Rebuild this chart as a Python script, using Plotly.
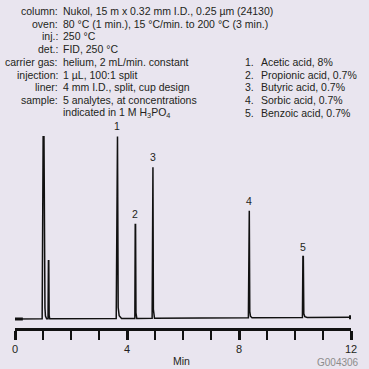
import plotly.graph_objects as go

# ---- data ----
peak_labels = ["", "", "1", "2", "3", "4", "5"]
peak_times = [1.02, 1.20, 3.65, 4.30, 4.92, 8.36, 10.29]
peak_heights = [182, 58, 182, 94, 151, 107, 61]
peak_halfwidths = [0.05, 0.02, 0.035, 0.02, 0.022, 0.025, 0.025]
peak_tails = [0.06, 0.02, 0.12, 0.03, 0.04, 0.08, 0.12]
baseline_start = 0.0
baseline_end = 1.7
x_ticks = [0, 4, 8, 12]
x_ticklabels = ["0", "4", "8", "12"]

cond_labels = ["column:", "oven:", "inj.:", "det.:", "carrier gas:", "injection:", "liner:", "sample:", ""]
cond_values = [
    "Nukol, 15 m x 0.32 mm I.D., 0.25 µm (24130)",
    "80 °C (1 min.), 15 °C/min. to 200 °C (3 min.)",
    "250 °C",
    "FID, 250 °C",
    "helium, 2 mL/min. constant",
    "1 µL, 100:1 split",
    "4 mm I.D., split, cup design",
    "5 analytes, at concentrations",
    "indicated in 1 M H<sub>3</sub>PO<sub>4</sub>",
]
compounds = ["Acetic acid, 8%", "Propionic acid, 0.7%", "Butyric acid, 0.7%",
             "Sorbic acid, 0.7%", "Benzoic acid, 0.7%"]

# ---- build trace ----
def base(t):
    return baseline_start + (baseline_end - baseline_start) * t / 12.0

xs = [0.0]
ys = [base(0.0)]
for t, h, w, tl in zip(peak_times, peak_heights, peak_halfwidths, peak_tails):
    xs += [t - w, t - w * 0.3, t + w * 0.3, t + w, t + w + tl * 0.3, t + w + tl]
    ys += [base(t), base(t) + h, base(t) + h, base(t) + 0.06 * h, base(t) + 0.015 * h, base(t)]
xs.append(12.0)
ys.append(base(12.0))

W, H = 369, 369
L, R, T, B = 14, 13, 130, 41
pw, ph = W - L - R, H - T - B

def px(x):
    return (x - L) / pw

def py(y):
    return (H - B - y) / ph

TXT = "#231f20"
FONT = "Liberation Sans, Arial, sans-serif"
FS = 10.5

fig = go.Figure()
fig.add_trace(go.Scatter(x=xs, y=ys, mode="lines", line=dict(color="#111111", width=1.5),
                         hoverinfo="skip", showlegend=False))
fig.add_trace(go.Scatter(x=[-0.03, 0.28], y=[base(0), base(0)], mode="lines",
                         line=dict(color="#111111", width=3), hoverinfo="skip", showlegend=False))
fig.add_trace(go.Scatter(x=[12.0], y=[base(12.0)], mode="markers",
                         marker=dict(symbol="square", size=4, color="#111111"),
                         hoverinfo="skip", showlegend=False))

ann = []
for lab, t, h in zip(peak_labels, peak_times, peak_heights):
    if lab:
        ann.append(dict(x=t, y=base(t) + h, xref="x", yref="y", text=lab, showarrow=False,
                        yanchor="bottom", yshift=2, font=dict(size=FS, color=TXT, family=FONT)))

for i, (lab, val) in enumerate(zip(cond_labels, cond_values)):
    yc = 11 + 12.7 * i
    if lab:
        ann.append(dict(x=px(59.5), y=py(yc), xref="paper", yref="paper", text=lab, showarrow=False,
                        xanchor="right", yanchor="middle", font=dict(size=FS, color=TXT, family=FONT)))
    ann.append(dict(x=px(60.5), y=py(yc), xref="paper", yref="paper", text=val, showarrow=False,
                    xanchor="left", yanchor="middle", font=dict(size=FS, color=TXT, family=FONT)))

for i, c in enumerate(compounds):
    yc = 11 + 12.7 * (4 + i)
    ann.append(dict(x=px(246), y=py(yc), xref="paper", yref="paper", text=f"{i+1}.", showarrow=False,
                    xanchor="left", yanchor="middle", font=dict(size=FS, color=TXT, family=FONT)))
    ann.append(dict(x=px(262.5), y=py(yc), xref="paper", yref="paper", text=c, showarrow=False,
                    xanchor="left", yanchor="middle", font=dict(size=FS, color=TXT, family=FONT)))

ann.append(dict(x=px(183), y=py(361), xref="paper", yref="paper", text="Min", showarrow=False,
                xanchor="center", yanchor="middle", font=dict(size=FS, color=TXT, family=FONT)))
ann.append(dict(x=px(366), y=py(362), xref="paper", yref="paper", text="G004306", showarrow=False,
                xanchor="right", yanchor="middle", font=dict(size=10, color="#8c8c8c", family=FONT)))

fig.update_layout(
    width=W, height=H,
    margin=dict(l=L, r=R, t=T, b=B, pad=0),
    paper_bgcolor="#e9e5ef", plot_bgcolor="#e9e5ef",
    annotations=ann,
    xaxis=dict(range=[0, 12], showgrid=False, zeroline=False, showline=True, linecolor="#111111",
               linewidth=3, ticks="outside", ticklen=9, tickwidth=3, tickcolor="#111111",
               tickvals=x_ticks, ticktext=x_ticklabels,
               tickfont=dict(size=11, color=TXT, family=FONT),
               minor=dict(dtick=1, tick0=0, ticks="outside", ticklen=9, tickwidth=2,
                          tickcolor="#111111", showgrid=False),
               fixedrange=True),
    yaxis=dict(range=[-9, 189], visible=False, fixedrange=True),
    showlegend=False,
)

fig.write_html("out.html", config={"displayModeBar": False},
               post_script="document.body.style.margin='0';document.body.style.background='#e9e5ef';")
